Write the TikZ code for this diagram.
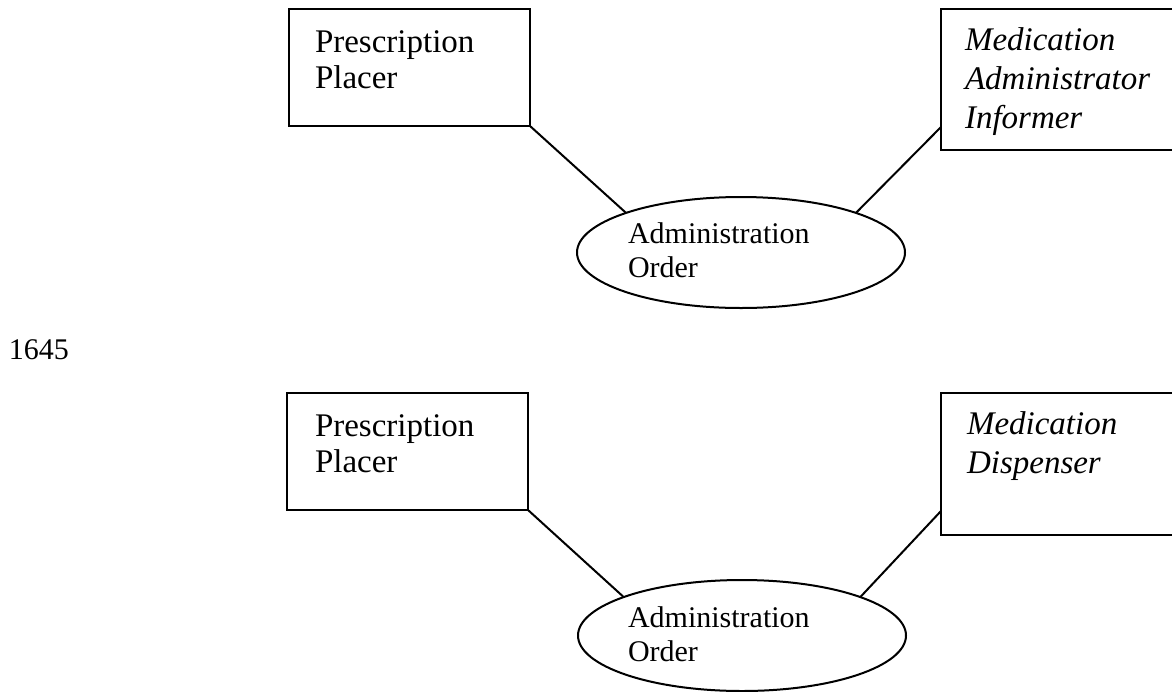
\documentclass[tikz,border=0pt]{standalone}
\usepackage{fontspec}
\setmainfont{Liberation Serif}
\usetikzlibrary{shapes.geometric}
\tikzset{
  boxnode/.style={draw, line width=1pt, rectangle, inner sep=0pt, outer sep=0pt},
  ovalnode/.style={draw, line width=1pt, ellipse, inner sep=0pt, outer sep=0pt,
    minimum width=164pt, minimum height=55.5pt},
  lbl/.style={anchor=base west, inner sep=0pt, outer sep=0pt},
  link/.style={line width=1pt},
}
\newcommand{\boxtext}[2]{\parbox[t]{150pt}{\fontsize{16.5}{#1}\selectfont #2}}
\newcommand{\ovaltext}[1]{\parbox[t]{120pt}{\fontsize{15}{17}\selectfont #1}}
\begin{document}
\begin{tikzpicture}[x=0.5pt,y=-0.5pt]
\useasboundingbox (0,0) rectangle (1172,691);
\clip (0,0) rectangle (1172,691);
% ---- top diagram ----
\node[boxnode, minimum width=120.5pt, minimum height=58.5pt] (b1) at (409.5,67.5) {};
\node[boxnode, minimum width=120pt, minimum height=70.5pt] (b2) at (1061,79.5) {};
\node[ovalnode] (o1) at (741,252.5) {};
\node[lbl] (t1) at (315,52) {\boxtext{18}{Prescription\\Placer}};
\node[lbl] (t2) at (965,50) {\boxtext{19.5}{\itshape Medication\\Administrator\\Informer}};
\node[lbl] (t3) at (628,243) {\ovaltext{Administration\\Order}};
\draw[link] (b1.south east) -- (o1.161);
\draw[link] (o1.19) -- ([yshift=11.5pt]b2.south west);
% ---- label ----
\node[lbl] (num) at (9,359) {\fontsize{15}{17}\selectfont 1645};
% ---- bottom diagram ----
\node[boxnode, minimum width=120.5pt, minimum height=58.5pt] (b3) at (407.5,451.5) {};
\node[boxnode, minimum width=120pt, minimum height=71pt] (b4) at (1061,464) {};
\node[ovalnode] (o2) at (742,635.5) {};
\node[lbl] (t4) at (315,436) {\boxtext{18}{Prescription\\Placer}};
\node[lbl] (t5) at (967,434) {\boxtext{19.5}{\itshape Medication\\Dispenser}};
\node[lbl] (t6) at (628,627) {\ovaltext{Administration\\Order}};
\draw[link] (b3.south east) -- (o2.162);
\draw[link] (o2.18) -- ([yshift=12pt]b4.south west);
\end{tikzpicture}
\end{document}
